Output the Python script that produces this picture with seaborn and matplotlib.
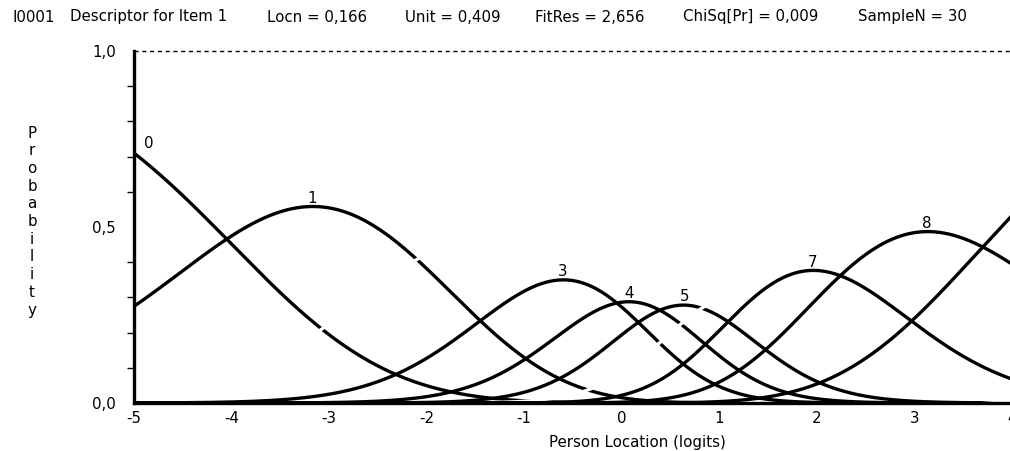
import numpy as np
import pandas as pd
import matplotlib
matplotlib.use("Agg")
import matplotlib.pyplot as plt
import seaborn as sns
from matplotlib.ticker import FixedLocator

# ---------------- data ----------------
categories = [0, 1, 2, 3, 4, 5, 6, 7, 8, 9]
# Rasch partial-credit thresholds (logits) for categories 1..9
thresholds = [-4.05, -2.10, -0.80, -0.05, 0.39, 0.82, 1.36, 2.24, 3.70]
# categories whose curve colour vanishes on the original (drawn in white)
hidden_categories = [2, 6]
labelled_categories = [0, 1, 3, 4, 5, 7, 8]
x_ticks = [-5, -4, -3, -2, -1, 0, 1, 2, 3, 4]
x_tick_labels = ["-5", "-4", "-3", "-2", "-1", "0", "1", "2", "3", "4"]
y_major = [0.0, 0.5, 1.0]
y_major_labels = ["0,0", "0,5", "1,0"]
y_minor = [0.1, 0.2, 0.3, 0.4, 0.6, 0.7, 0.8, 0.9]
header_fields = ["I0001", "Descriptor for Item 1", "Locn = 0,166", "Unit = 0,409",
                 "FitRes = 2,656", "ChiSq[Pr] = 0,009", "SampleN = 30"]
x_label = "Person Location (logits)"
y_label = "Probability"

# ---------------- model curves ----------------
theta = np.linspace(-5, 4, 601)
k = np.array(categories)
cum = np.concatenate([[0.0], np.cumsum(thresholds)])
logits = np.outer(theta, k) - cum[None, :]
logits -= logits.max(axis=1, keepdims=True)
prob = np.exp(logits)
prob /= prob.sum(axis=1, keepdims=True)

df = pd.DataFrame({
    "theta": np.repeat(theta, len(categories)),
    "cat": np.tile([str(c) for c in categories], len(theta)),
    "p": prob.ravel(),
})

# ---------------- figure ----------------
sns.set_style("white")
plt.rcParams["font.family"] = ["DejaVu Sans"]
plt.rcParams["text.color"] = "black"
plt.rcParams["xtick.color"] = "black"
plt.rcParams["ytick.color"] = "black"
FS = 10.8
W, H = 1010, 451
fig = plt.figure(figsize=(W / 100, H / 100), dpi=100)
ax = fig.add_axes([134 / W, 1 - 403 / H, (1012 - 134) / W, 352 / H])

palette = {str(c): ("white" if c in hidden_categories else "black") for c in categories}
sns.lineplot(data=df, x="theta", y="p", hue="cat", hue_order=[str(c) for c in categories],
             palette=palette, linewidth=2.4, legend=False, estimator=None,
             sort=False, ax=ax)

ax.set_xlim(-5, 4)
ax.set_ylim(0, 1)
ax.set_xlabel("")
ax.set_ylabel("")

for s in ["top", "right"]:
    ax.spines[s].set_visible(False)
for s in ["left", "bottom"]:
    ax.spines[s].set_linewidth(2.4)
    ax.spines[s].set_color("black")
    ax.spines[s].set_zorder(5)

ax.axhline(1.0, color="black", lw=1.0, dashes=(3, 2.6), clip_on=False, zorder=5)

ax.xaxis.set_major_locator(FixedLocator(x_ticks))
ax.set_xticklabels(x_tick_labels)
ax.yaxis.set_major_locator(FixedLocator(y_major))
ax.set_yticklabels(y_major_labels)
ax.yaxis.set_minor_locator(FixedLocator(y_minor))
ax.tick_params(axis="x", which="major", direction="out", length=4, width=1.2,
               color="black", labelsize=FS, pad=1.5, labelcolor="black")
ax.tick_params(axis="y", which="major", direction="out", length=11, width=1.0,
               color="black", labelsize=FS, pad=2, labelcolor="black")
ax.tick_params(axis="y", which="minor", direction="out", length=5, width=1.0,
               color="black", left=True)

# curve labels at each visible curve's peak
for c in labelled_categories:
    i = int(np.argmax(prob[:, c]))
    xp, yp = theta[i], prob[i, c]
    if c == 0:
        ax.text(xp + 0.1, yp + 0.005, str(c), ha="left", va="bottom",
                fontsize=FS, color="black")
    else:
        ax.text(xp, yp + 0.002, str(c), ha="center", va="bottom",
                fontsize=FS, color="black")

# header line
header_x = [13, 70, 267, 405, 535, 683, 858]
for txt, px in zip(header_fields, header_x):
    fig.text(px / W, 1 - 17 / H, txt, ha="left", va="center", fontsize=FS, color="black")

# vertical stacked y label
n = len(y_label)
for i, ch in enumerate(y_label):
    py = 133 + i * (310 - 133) / (n - 1)
    fig.text(32 / W, 1 - py / H, ch, ha="center", va="center", fontsize=FS, color="black")

fig.text(637 / W, 1 - 442 / H, x_label, ha="center", va="center", fontsize=FS, color="black")

fig.savefig("out.png", dpi=100, facecolor="white")
